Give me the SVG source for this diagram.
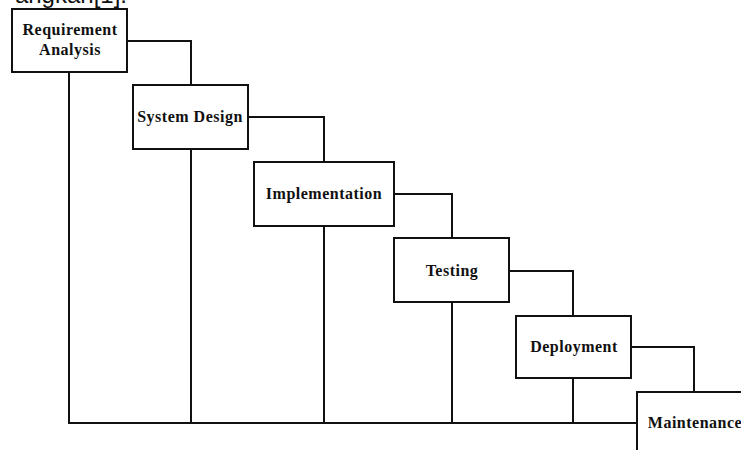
<svg xmlns="http://www.w3.org/2000/svg" width="741" height="450" viewBox="0 0 741 450">
<style>
.box{fill:#fff;stroke:#111;stroke-width:2}
.ln{fill:none;stroke:#111;stroke-width:2}
.t{font-family:"Liberation Serif","Times New Roman",serif;font-weight:bold;font-size:16px;letter-spacing:0.5px;fill:#111;text-anchor:middle}
.cap{font-family:"Liberation Sans",Arial,sans-serif;font-size:24px;fill:#111;text-anchor:end}
</style>
<rect width="741" height="450" fill="#fff"/>
<text class="cap" x="127" y="3">angkan[1].</text>
<g id="connectors">
<polyline class="ln" points="127,41 191,41 191,85"/>
<polyline class="ln" points="248,117 324,117 324,162"/>
<polyline class="ln" points="394,194 452,194 452,238"/>
<polyline class="ln" points="509,271 573,271 573,316"/>
<polyline class="ln" points="631,347 694,347 694,392"/>
<line class="ln" x1="69" y1="72" x2="69" y2="423"/>
<line class="ln" x1="191" y1="149" x2="191" y2="423"/>
<line class="ln" x1="324" y1="226" x2="324" y2="423"/>
<line class="ln" x1="452" y1="302" x2="452" y2="423"/>
<line class="ln" x1="573" y1="378" x2="573" y2="423"/>
<line class="ln" x1="68" y1="423" x2="637" y2="423"/>
</g>
<g id="requirement">
<rect class="box" x="12" y="9" width="115" height="63"/>
<text class="t" x="70" y="35">Requirement</text>
<text class="t" x="70" y="55">Analysis</text>
</g>
<g id="design">
<rect class="box" x="133" y="85" width="115" height="64"/>
<text class="t" x="190" y="122">System Design</text>
</g>
<g id="implementation">
<rect class="box" x="254" y="162" width="140" height="64"/>
<text class="t" x="324" y="199">Implementation</text>
</g>
<g id="testing">
<rect class="box" x="394" y="238" width="115" height="64"/>
<text class="t" x="452" y="276">Testing</text>
</g>
<g id="deployment">
<rect class="box" x="516" y="316" width="115" height="62"/>
<text class="t" x="574" y="352">Deployment</text>
</g>
<g id="maintenance">
<rect class="box" x="637" y="392" width="120" height="70"/>
<text class="t" x="695" y="428">Maintenance</text>
</g>
</svg>
